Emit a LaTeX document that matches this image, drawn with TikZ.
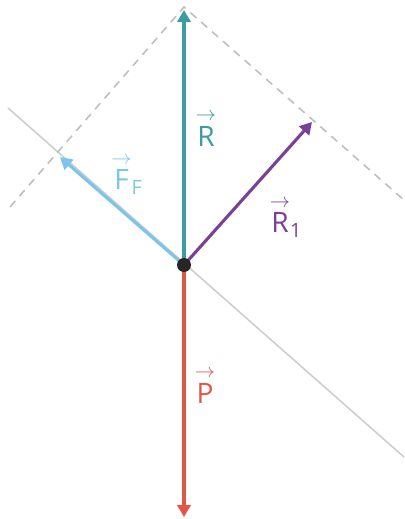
\documentclass[tikz,border=0pt]{standalone}
\usepackage{amsmath}
\usepackage{fontspec}
\setmainfont{Open Sans}
\usepackage{xcolor}
\definecolor{sarcelle}{HTML}{3E9BA0}
\definecolor{ciel}{HTML}{7CC4EA}
\definecolor{prune}{HTML}{7B3F97}
\definecolor{brique}{HTML}{E0574A}
\definecolor{galet}{HTML}{CDCDCD}
\definecolor{cendre}{HTML}{BDBDBD}
\definecolor{encre}{HTML}{262626}
\usetikzlibrary{positioning, arrows.meta}
\newcommand{\vecteur}[1]{$\overset{\scriptstyle\rightarrow}{\text{#1}}$}
\newcommand{\vecteurind}[2]{${\overset{\scriptstyle\rightarrow}{\text{#1}}}_{\text{#2}}$}

\begin{document}
\begin{tikzpicture}[x=0.025cm, y=0.025cm,
      force/.style={-{Triangle[length=3mm, width=3.3mm]}, line width=2.2pt},
      pente/.style={draw=galet, line width=1.1pt},
      guide/.style={draw=cendre, line width=1.1pt, dash pattern=on 2mm off 1.6mm},
      etiquette/.style={font=\fontsize{20}{24}\selectfont, inner sep=1pt}]
    \useasboundingbox (-184,-254) rectangle (220,265);
    % points
    \coordinate (O)   at (0,0);
    \coordinate (tR)  at (0,255);
    \coordinate (tP)  at (0,-252);
    \coordinate (tF)  at (-124,108);
    \coordinate (tR1) at (128,143);
    \coordinate (haut) at (0,258);
    \coordinate (pg)  at (-176,157);
    \coordinate (pd)  at (220,-192);
    \coordinate (gg)  at (-174,58);
    \coordinate (gd)  at (220,65);
    % plan incline et construction
    \draw[pente] (pg) -- (pd);
    \draw[guide] (gg) -- (haut) -- (gd);
    % forces
    \draw[force, color=brique]   (O) -- (tP);
    \draw[force, color=ciel]     (O) -- (tF);
    \draw[force, color=prune]    (O) -- (tR1);
    \draw[force, color=sarcelle] (O) -- (tR);
    \fill[encre] (O) circle (7);
    % etiquettes
    \node[etiquette, text=sarcelle] (lR)  at (22,137)  {\vecteur{R}};
    \node[etiquette, text=ciel]     (lF)  at (-57,91)  {\vecteurind{F}{F}};
    \node[etiquette, text=prune]    (lR1) at (102,48)  {\vecteurind{R}{1}};
    \node[etiquette, text=brique]   (lP)  at (21,-120) {\vecteur{P}};
\end{tikzpicture}
\end{document}
